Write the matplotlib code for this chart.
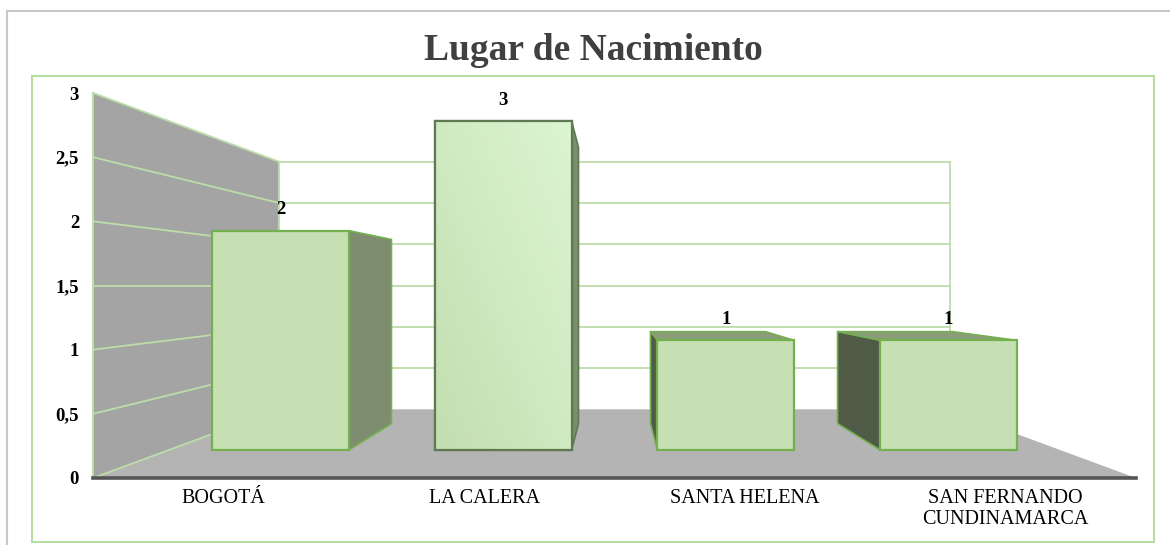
import numpy as np
import matplotlib
matplotlib.use("Agg")
import matplotlib.pyplot as plt
from matplotlib.patches import Polygon, Rectangle
from matplotlib.lines import Line2D
from matplotlib.colors import LinearSegmentedColormap

# ---- data ----
categories = ["BOGOTÁ", "LA CALERA", "SANTA HELENA", "SAN FERNANDO\nCUNDINAMARCA"]
values = [2, 3, 1, 1]
yticks = [0, 0.5, 1, 1.5, 2, 2.5, 3]
ytick_labels = ["0", "0,5", "1", "1,5", "2", "2,5", "3"]
title = "Lugar de Nacimiento"

# ---- style / layout ----
W, H, DPI = 1170, 545, 100
SERIF = ["Liberation Serif", "DejaVu Serif"]
WALL = "#A4A4A4"
FLOOR = "#B4B4B4"
GRID = "#BCDDAA"
FRONT = "#C6E0B4"
EDGE = "#74B04E"
RIGHT_SIDE = "#7E8C6F"
LEFT_SIDE = "#4F5A47"
TOP_FACE = "#889D78"
BAR_W = 0.615
D_FRONT, D_BACK = 0.31, 0.71
K = 0.555  # perspective depth factor

fig = plt.figure(figsize=(W / DPI, H / DPI), dpi=DPI)
ax = fig.add_axes([93 / W, (H - 478) / H, (1136 - 93) / W, (478 - 93) / H])
n = len(categories)
xmin, xmax = -0.5, n - 0.5
ymax = max(yticks)
ax.set_xlim(xmin, xmax)
ax.set_ylim(0, ymax)
VPX, VPY = (xmin + xmax) / 2, ymax / 2


def proj(x, v, d):
    s = 1.0 / (1.0 + K * d)
    return (VPX + (x - VPX) * s, VPY + (v - VPY) * s)


def poly(pts, **kw):
    p = Polygon([proj(*q) for q in pts], closed=True, clip_on=False, **kw)
    ax.add_patch(p)
    return p


def line(p0, p1, **kw):
    a, b = proj(*p0), proj(*p1)
    ax.add_line(Line2D([a[0], b[0]], [a[1], b[1]], clip_on=False, **kw))


# walls and floor
poly([(xmin, 0, 0), (xmin, 0, 1), (xmin, ymax, 1), (xmin, ymax, 0)],
     facecolor=WALL, edgecolor="none", zorder=1)
poly([(xmin, 0, 0), (xmax, 0, 0), (xmax, 0, 1), (xmin, 0, 1)],
     facecolor=FLOOR, edgecolor="none", zorder=1)
for t in yticks:
    line((xmin, t, 0), (xmin, t, 1), color=GRID, lw=1.3, zorder=2)
    if t > 0:
        line((xmin, t, 1), (xmax, t, 1), color=GRID, lw=1.3, zorder=2)
line((xmin, 0, 0), (xmin, ymax, 0), color=GRID, lw=1.5, zorder=2)
line((xmin, 0, 1), (xmin, ymax, 1), color=GRID, lw=1.3, zorder=2)
line((xmax, 0, 1), (xmax, ymax, 1), color=GRID, lw=1.3, zorder=2)
line((xmin, 0, 0), (xmax, 0, 0), color="#555555", lw=2.6, zorder=6)

# bars
grad_cmap = LinearSegmentedColormap.from_list("g", ["#C3DEB0", "#DCF5D2"])
for i, v in enumerate(values):
    x0, x1 = i - BAR_W / 2, i + BAR_W / 2
    xs = x1 if i < VPX else x0
    side_col = RIGHT_SIDE if i < VPX else LEFT_SIDE
    edge = "#5E7A52" if v == max(values) else EDGE
    poly([(xs, 0, D_FRONT), (xs, 0, D_BACK), (xs, v, D_BACK), (xs, v, D_FRONT)],
         facecolor=side_col, edgecolor=edge, lw=1.2, zorder=3, joinstyle="round")
    if v < VPY:
        poly([(x0, v, D_FRONT), (x1, v, D_FRONT), (x1, v, D_BACK), (x0, v, D_BACK)],
             facecolor=TOP_FACE, edgecolor=EDGE, lw=1.0, zorder=3)
    front = poly([(x0, 0, D_FRONT), (x1, 0, D_FRONT), (x1, v, D_FRONT), (x0, v, D_FRONT)],
                 facecolor=FRONT, edgecolor=edge, lw=1.6, zorder=4)
    if v == max(values):
        (ax0, ay0), (ax1, ay1) = proj(x0, 0, D_FRONT), proj(x1, v, D_FRONT)
        gx, gy = np.meshgrid(np.linspace(0, 1, 50), np.linspace(0, 1, 50))
        im = ax.imshow((gx + gy) / 2, cmap=grad_cmap, extent=(ax0, ax1, ay0, ay1),
                       origin="lower", aspect="auto", zorder=4.5, interpolation="bilinear")
        im.set_clip_path(front)
        poly([(x0, 0, D_FRONT), (x1, 0, D_FRONT), (x1, v, D_FRONT), (x0, v, D_FRONT)],
             facecolor="none", edgecolor=edge, lw=1.6, zorder=5)
    cx, cy = proj(i, v, D_FRONT)
    ax.annotate(str(v), (cx, cy), xytext=(0, 15), textcoords="offset points",
                ha="center", va="center", fontsize=13.5, fontweight="bold",
                family=SERIF, color="black", zorder=7, annotation_clip=False)

ax.set_xlim(xmin, xmax)
ax.set_ylim(0, ymax)
ax.set_yticks(yticks)
ax.set_yticklabels(ytick_labels, fontsize=13.5, fontweight="bold", family=SERIF)
ax.set_xticks(range(n))
ax.set_xticklabels(categories, fontsize=14.5, family=SERIF, linespacing=1.1)
ax.tick_params(axis="both", length=0)
ax.tick_params(axis="y", pad=10)
ax.tick_params(axis="x", pad=8)
for s in ax.spines.values():
    s.set_visible(False)
ax.patch.set_visible(False)

# title
fig.text(593 / W, 1 - 60 / H, title, ha="center", va="baseline", fontsize=27,
         fontweight="bold", family=SERIF, color="#404040")

# frames
fig.add_artist(Rectangle((32 / W, 1 - 542 / H), (1154 - 32) / W, (542 - 76) / H,
                         transform=fig.transFigure, fill=False, edgecolor="#B7DDA3", lw=1.5))
fig.add_artist(Line2D([7 / W, 1], [1 - 11 / H, 1 - 11 / H], transform=fig.transFigure,
                      color="#C8C8C8", lw=1.5))
fig.add_artist(Line2D([7 / W, 7 / W], [0, 1 - 11 / H], transform=fig.transFigure,
                      color="#C8C8C8", lw=1.5))

fig.savefig("out.png", dpi=DPI, facecolor="white")
